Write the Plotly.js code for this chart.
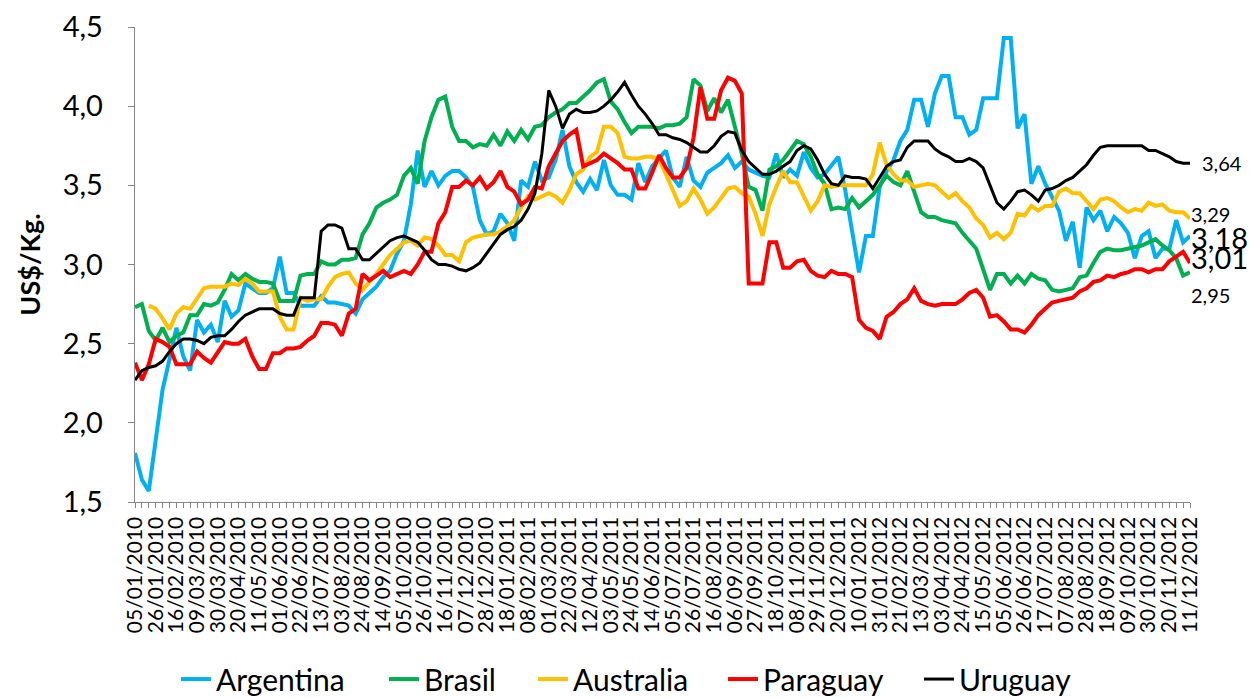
<!DOCTYPE html>
<html>
<head>
<meta charset="utf-8">
<script src="https://cdn.plot.ly/plotly-3.0.1.min.js"></script>
<style>
  html, body { margin: 0; padding: 0; background: #ffffff; }
  #chart { width: 1250px; height: 698px; }
</style>
</head>
<body>
<div id="chart"></div>
<script>
// Weekly series, first week 05/01/2010
const startDate = "2010-01-05";

const argentina = [
  1.81,1.64,1.57,1.90,2.21,2.40,2.60,2.42,2.33,2.65,
  2.57,2.62,2.51,2.77,2.67,2.71,2.88,2.85,2.82,2.82,
  2.85,3.05,2.82,2.82,2.74,2.74,2.74,2.80,2.76,2.76,
  2.75,2.74,2.69,2.78,2.82,2.86,2.92,2.96,3.07,3.15,
  3.38,3.72,3.49,3.59,3.50,3.56,3.59,3.59,3.55,3.49,
  3.28,3.19,3.21,3.32,3.26,3.15,3.53,3.49,3.65,3.53,
  3.55,3.66,3.85,3.62,3.52,3.46,3.54,3.47,3.66,3.50,
  3.44,3.44,3.41,3.64,3.52,3.62,3.67,3.72,3.55,3.49,
  3.68,3.53,3.49,3.58,3.61,3.64,3.69,3.61,3.65,3.60,
  3.58,3.56,3.55,3.70,3.55,3.60,3.56,3.71,3.61,3.55,
  3.57,3.63,3.68,3.47,3.22,2.95,3.18,3.18,3.49,3.59,
  3.66,3.78,3.85,4.04,4.04,3.87,4.08,4.19,4.19,3.93,
  3.93,3.82,3.85,4.05,4.05,4.05,4.43,4.43,3.86,3.95,
  3.51,3.62,3.51,3.43,3.34,3.15,3.27,2.98,3.36,3.28,
  3.34,3.21,3.30,3.26,3.20,3.04,3.18,3.21,3.04,3.10,
  3.10,3.28,3.14,3.18
];

const brasil = [
  2.73,2.75,2.58,2.52,2.60,2.51,2.55,2.57,2.68,2.68,
  2.75,2.74,2.76,2.84,2.94,2.90,2.94,2.91,2.89,2.89,
  2.88,2.77,2.77,2.77,2.93,2.94,2.94,3.02,3.00,3.00,
  3.03,3.03,3.04,3.19,3.26,3.36,3.39,3.41,3.44,3.56,
  3.61,3.51,3.78,3.93,4.04,4.06,3.87,3.78,3.78,3.74,
  3.76,3.75,3.82,3.75,3.84,3.78,3.85,3.79,3.87,3.88,
  3.93,3.96,3.98,4.02,4.02,4.06,4.10,4.15,4.17,4.03,
  3.98,3.90,3.83,3.87,3.87,3.87,3.86,3.88,3.88,3.89,
  3.93,4.17,4.13,3.97,4.05,3.96,4.04,3.88,3.70,3.49,
  3.47,3.34,3.60,3.62,3.66,3.72,3.78,3.76,3.68,3.57,
  3.51,3.35,3.36,3.35,3.42,3.36,3.40,3.44,3.50,3.56,
  3.52,3.50,3.59,3.46,3.33,3.30,3.30,3.28,3.27,3.26,
  3.20,3.15,3.10,2.97,2.84,2.94,2.94,2.88,2.93,2.88,
  2.94,2.91,2.90,2.84,2.83,2.84,2.85,2.92,2.93,3.01,
  3.08,3.10,3.09,3.09,3.10,3.11,3.12,3.14,3.16,3.12,
  3.09,3.04,2.93,2.95
];

const australia = [
  null,null,2.74,2.72,2.66,2.59,2.69,2.73,2.72,2.79,
  2.85,2.86,2.86,2.86,2.88,2.87,2.91,2.88,2.83,2.83,
  2.83,2.67,2.59,2.59,2.79,2.77,2.78,2.78,2.86,2.92,
  2.94,2.95,2.88,2.84,2.89,2.94,3.00,3.06,3.10,3.14,
  3.15,3.12,3.17,3.16,3.12,3.06,3.06,3.02,3.14,3.17,
  3.18,3.19,3.19,3.21,3.24,3.28,3.36,3.43,3.41,3.43,
  3.45,3.43,3.39,3.47,3.57,3.60,3.68,3.71,3.87,3.87,
  3.83,3.68,3.67,3.67,3.68,3.68,3.66,3.57,3.47,3.37,
  3.40,3.48,3.41,3.32,3.36,3.42,3.48,3.49,3.45,3.43,
  3.32,3.18,3.38,3.49,3.59,3.52,3.52,3.43,3.34,3.40,
  3.50,3.49,3.50,3.50,3.50,3.50,3.50,3.57,3.77,3.63,
  3.57,3.53,3.53,3.49,3.50,3.51,3.50,3.46,3.42,3.45,
  3.40,3.36,3.29,3.25,3.17,3.20,3.16,3.20,3.32,3.31,
  3.37,3.34,3.37,3.37,3.46,3.48,3.45,3.45,3.40,3.35,
  3.41,3.42,3.40,3.36,3.33,3.35,3.34,3.39,3.37,3.38,
  3.34,3.33,3.33,3.29
];

const paraguay = [
  2.38,2.27,2.37,2.53,2.51,2.48,2.37,2.37,2.37,2.45,
  2.41,2.38,2.45,2.51,2.50,2.50,2.53,2.42,2.34,2.34,
  2.44,2.44,2.47,2.47,2.48,2.52,2.55,2.63,2.63,2.62,
  2.55,2.69,2.72,2.94,2.90,2.93,2.96,2.92,2.94,2.96,
  2.94,3.00,3.08,3.08,3.26,3.33,3.49,3.49,3.53,3.50,
  3.55,3.48,3.52,3.59,3.49,3.46,3.38,3.41,3.49,3.48,
  3.62,3.70,3.78,3.82,3.85,3.62,3.64,3.66,3.70,3.67,
  3.64,3.60,3.60,3.48,3.48,3.58,3.69,3.61,3.55,3.55,
  3.61,3.80,4.12,3.92,3.92,4.10,4.18,4.16,4.08,2.88,
  2.88,2.88,3.14,3.14,2.98,2.98,3.02,3.03,2.96,2.93,
  2.92,2.96,2.94,2.94,2.92,2.65,2.60,2.58,2.53,2.67,
  2.70,2.75,2.78,2.85,2.77,2.75,2.74,2.75,2.75,2.75,
  2.78,2.82,2.84,2.79,2.67,2.68,2.64,2.59,2.59,2.57,
  2.62,2.68,2.72,2.76,2.77,2.78,2.79,2.83,2.85,2.89,
  2.90,2.93,2.92,2.94,2.95,2.97,2.97,2.95,2.97,2.97,
  3.02,3.05,3.08,3.01
];

const uruguay = [
  2.27,2.33,2.35,2.36,2.39,2.45,2.50,2.53,2.53,2.52,
  2.50,2.54,2.55,2.55,2.59,2.64,2.68,2.70,2.72,2.72,
  2.72,2.69,2.68,2.68,2.79,2.79,2.79,3.21,3.25,3.25,
  3.23,3.10,3.10,3.03,3.03,3.07,3.11,3.15,3.17,3.18,
  3.16,3.14,3.09,3.03,3.00,3.00,2.99,2.97,2.96,2.98,
  3.01,3.07,3.13,3.19,3.22,3.24,3.28,3.35,3.45,3.70,
  4.10,4.00,3.86,3.95,3.98,3.96,3.96,3.97,4.00,4.04,
  4.09,4.15,4.07,4.00,3.95,3.89,3.82,3.82,3.80,3.79,
  3.77,3.74,3.71,3.71,3.75,3.81,3.84,3.83,3.72,3.65,
  3.61,3.57,3.57,3.59,3.62,3.65,3.72,3.75,3.73,3.66,
  3.57,3.51,3.50,3.56,3.55,3.55,3.54,3.48,3.55,3.62,
  3.65,3.66,3.74,3.78,3.78,3.78,3.73,3.70,3.68,3.65,
  3.65,3.67,3.65,3.61,3.50,3.39,3.35,3.40,3.46,3.47,
  3.44,3.40,3.47,3.48,3.50,3.53,3.55,3.59,3.63,3.69,
  3.74,3.75,3.75,3.75,3.75,3.75,3.75,3.72,3.72,3.70,
  3.68,3.65,3.64,3.64
];

const seriesNames = ["Argentina", "Brasil", "Australia", "Paraguay", "Uruguay"];
const seriesValues = [argentina, brasil, australia, paraguay, uruguay];
const seriesColors = ["#00B0F0", "#00B050", "#FFC000", "#FF0000", "#000000"];
const lineWidths = [4, 4, 4, 4, 3];

// weekly category labels dd/mm/yyyy
function pad(n) { return (n < 10 ? "0" : "") + n; }
const nWeeks = argentina.length;
const categories = [];
{
  const p = startDate.split("-").map(Number);
  for (let i = 0; i < nWeeks; i++) {
    const d = new Date(Date.UTC(p[0], p[1] - 1, p[2] + 7 * i));
    categories.push(pad(d.getUTCDate()) + "/" + pad(d.getUTCMonth() + 1) + "/" + d.getUTCFullYear());
  }
}
const tickLabels = categories.map((c, i) => (i % 3 === 0 ? c : ""));

const FONT = "Lato, 'Open Sans', sans-serif";

// one legend per series so each entry sits where the reference puts it
const legendKeys = ["legend", "legend2", "legend3", "legend4", "legend5"];
const legendLeftPx = [176, 384, 533, 723, 919];

const traces = seriesNames.map((name, k) => ({
  type: "scatter",
  mode: "lines",
  name: name,
  x: categories,
  y: seriesValues[k],
  line: { color: seriesColors[k], width: lineWidths[k] },
  legend: legendKeys[k],
  connectgaps: false,
  hoverinfo: "x+y+name"
}));

// end-of-series value labels (style per series)
const endLabelStyle = {
  Uruguay:   { size: 20, xshift: 10, yshift: 0 },
  Australia: { size: 20, xshift: -1, yshift: 5 },
  Argentina: { size: 29, xshift: -1, yshift: -1 },
  Paraguay:  { size: 29, xshift: -1, yshift: 5 },
  Brasil:    { size: 20, xshift: -1, yshift: -23 }
};
const annotations = seriesNames.map((name, k) => {
  const vals = seriesValues[k];
  const last = vals[vals.length - 1];
  const st = endLabelStyle[name];
  return {
    x: categories[vals.length - 1],
    y: last,
    xref: "x", yref: "y",
    text: last.toFixed(2).replace(".", ","),
    showarrow: false,
    xanchor: "left",
    yanchor: "middle",
    xshift: st.xshift,
    yshift: st.yshift,
    font: { family: FONT, size: st.size, color: "#000000" }
  };
});

const plotL = 135, plotR = 1190;
const layout = {
  width: 1250,
  height: 698,
  paper_bgcolor: "#ffffff",
  plot_bgcolor: "#ffffff",
  separators: ",.",
  margin: { l: plotL, r: 1250 - plotR, t: 27, b: 196, autoexpand: false },
  showlegend: true,
  xaxis: {
    type: "category",
    range: [0, nWeeks - 1],
    tickmode: "array",
    tickvals: categories,
    ticktext: tickLabels,
    tickangle: -90,
    ticks: "outside",
    ticklen: 5,
    tickcolor: "#868686",
    tickwidth: 1,
    showline: true,
    linecolor: "#868686",
    linewidth: 1.3,
    showgrid: false,
    zeroline: false,
    tickfont: { family: FONT, size: 21, color: "#000000" },
    automargin: false,
    fixedrange: true
  },
  yaxis: {
    range: [1.5, 4.5],
    dtick: 0.5,
    tick0: 1.5,
    tickformat: ".1f",
    ticks: "outside",
    ticklen: 6,
    tickcolor: "#868686",
    showline: true,
    linecolor: "#868686",
    linewidth: 1.3,
    showgrid: false,
    zeroline: false,
    ticklabelstandoff: 19,
    tickfont: { family: FONT, size: 29, color: "#000000" },
    title: { text: "<b>US$/Kg.</b>", font: { family: FONT, size: 27, color: "#000000" }, standoff: 14 },
    automargin: false,
    fixedrange: true
  },
  annotations: annotations
};

legendKeys.forEach((key, k) => {
  layout[key] = {
    orientation: "h",
    x: (legendLeftPx[k] - plotL) / (plotR - plotL),
    xanchor: "left",
    y: -0.318,
    yanchor: "top",
    bgcolor: "rgba(0,0,0,0)",
    borderwidth: 0,
    font: { family: FONT, size: 30, color: "#000000" }
  };
});

Plotly.newPlot("chart", traces, layout, { displayModeBar: false, staticPlot: true });
</script>
</body>
</html>
